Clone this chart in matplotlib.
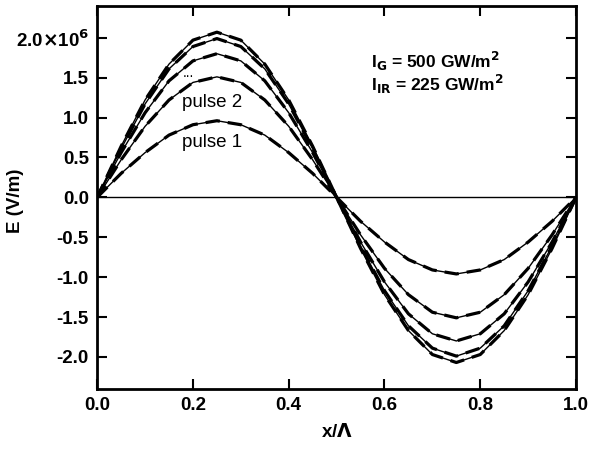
import matplotlib.pyplot as plt

plt.rcParams['font.family'] = ['Liberation Sans', 'DejaVu Sans']
plt.rcParams['font.weight'] = 'bold'

# x/Lambda sample positions and E values (units of 1e6 V/m)
x = [0.0, 0.05, 0.1, 0.15, 0.2, 0.25, 0.3, 0.35, 0.4, 0.45, 0.5,
     0.55, 0.6, 0.65, 0.7, 0.75, 0.8, 0.85, 0.9, 0.95, 1.0]

e1 = [0, 0.30, 0.56, 0.78, 0.91, 0.96, 0.91, 0.78, 0.56, 0.30, 0,
      -0.30, -0.56, -0.78, -0.91, -0.96, -0.91, -0.78, -0.56, -0.30, 0]
e2 = [0, 0.47, 0.89, 1.22, 1.44, 1.51, 1.44, 1.22, 0.89, 0.47, 0,
      -0.47, -0.89, -1.22, -1.44, -1.51, -1.44, -1.22, -0.89, -0.47, 0]
e3 = [0, 0.56, 1.06, 1.46, 1.71, 1.80, 1.71, 1.46, 1.06, 0.56, 0,
      -0.56, -1.06, -1.46, -1.71, -1.80, -1.71, -1.46, -1.06, -0.56, 0]
e4 = [0, 0.61, 1.17, 1.61, 1.89, 1.99, 1.89, 1.61, 1.17, 0.61, 0,
      -0.61, -1.17, -1.61, -1.89, -1.99, -1.89, -1.61, -1.17, -0.61, 0]
e5 = [0, 0.64, 1.22, 1.67, 1.97, 2.07, 1.97, 1.67, 1.22, 0.64, 0,
      -0.64, -1.22, -1.67, -1.97, -2.07, -1.97, -1.67, -1.22, -0.64, 0]
curves = [e1, e2, e3, e4, e5]

yticks = [-2.0, -1.5, -1.0, -0.5, 0.0, 0.5, 1.0, 1.5, 2.0]
ytick_labels = ['-2.0', '-1.5', '-1.0', '-0.5', '0.0', '0.5', '1.0', '1.5', r'2.0$\times$10$^6$']
xticks = [0.0, 0.2, 0.4, 0.6, 0.8, 1.0]

fig = plt.figure(figsize=(5.89, 4.49), dpi=100)
ax = fig.add_axes([0.165, 0.134, 0.813, 0.853])

for e in curves:
    ax.plot(x, e, color='black', lw=1.0)
    ax.plot(x, e, color='black', lw=2.3, linestyle=(0, (4.5, 2.5)))

ax.axhline(0, color='black', lw=1.0)

ax.set_xlim(0, 1)
ax.set_ylim(-2.4, 2.4)
ax.set_xticks(xticks)
ax.set_xticklabels(['%.1f' % t for t in xticks])
ax.set_yticks(yticks)
ax.set_yticklabels(ytick_labels)
ax.tick_params(direction='in', length=7, width=1.5, top=True, right=True,
               labelsize=13.5, pad=6)
for s in ax.spines.values():
    s.set_linewidth(2)

ax.set_xlabel(r'x/$\Lambda$', fontsize=13.5, fontweight='bold', labelpad=6)
ax.set_ylabel('E (V/m)', fontsize=13.5, fontweight='bold')
ax.yaxis.set_label_coords(-0.152, 0.49)

ax.text(0.24, 1.19, 'pulse 2', fontsize=13.5, fontweight='normal', ha='center', va='center')
ax.text(0.24, 0.69, 'pulse 1', fontsize=13.5, fontweight='normal', ha='center', va='center')
ax.text(0.19, 1.56, '...', fontsize=10, fontweight='normal', ha='center', va='center')
ax.text(0.572, 1.70, r'I$_\mathbf{G}$ = 500 GW/m$^\mathbf{2}$', fontsize=12.5, va='center')
ax.text(0.572, 1.42, r'I$_\mathbf{IR}$ = 225 GW/m$^\mathbf{2}$', fontsize=12.5, va='center')

fig.savefig('out.png', dpi=100)
